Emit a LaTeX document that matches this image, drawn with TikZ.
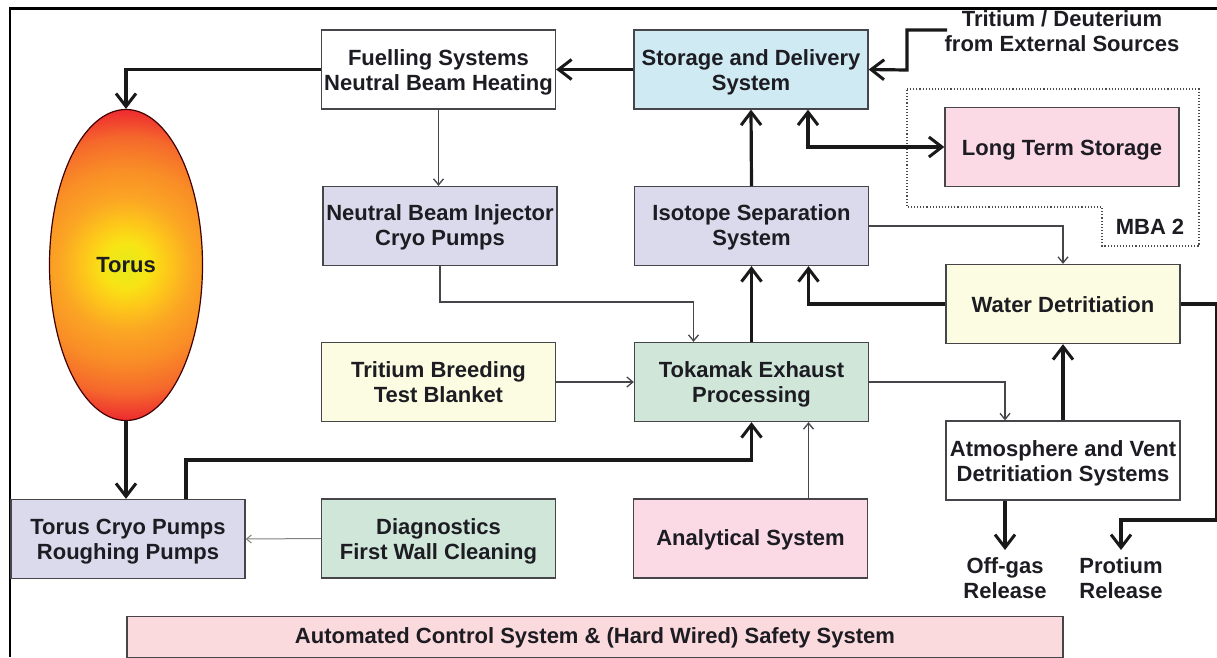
\documentclass[tikz,border=0pt]{standalone}
\usepackage{fontspec}
\setmainfont{Liberation Sans}
\usetikzlibrary{arrows.meta,shapes.geometric}
\definecolor{inkc}{HTML}{1C1C22}
\definecolor{edgec}{HTML}{45454A}
\definecolor{bluef}{HTML}{CFEAF3}
\definecolor{pinkf}{HTML}{FBDAE6}
\definecolor{lavf}{HTML}{DADAEC}
\definecolor{creamf}{HTML}{FCFCE2}
\definecolor{greenf}{HTML}{CFE6D9}
\definecolor{rosef}{HTML}{FBDADD}
\definecolor{glowa}{HTML}{E4EA1C}
\definecolor{glowb}{HTML}{F8E414}
\definecolor{glowc}{HTML}{FDC81A}
\definecolor{glowd}{HTML}{FBA524}
\definecolor{glowe}{HTML}{F98E26}
\definecolor{glowf}{HTML}{F5682C}
\definecolor{glowg}{HTML}{EE2E30}
\pgfdeclareradialshading{torusglow}{\pgfpoint{0bp}{0bp}}{%
 color(0bp)=(glowa);
 color(3.5bp)=(glowb);
 color(6.5bp)=(glowc);
 color(10.5bp)=(glowd);
 color(15bp)=(glowe);
 color(20bp)=(glowf);
 color(24bp)=(glowg);
 color(50bp)=(glowg)}
\newcommand{\dn}[2]{\vbox{\kern#1\hbox{\begin{tabular}{@{}c@{}}#2\end{tabular}}}}
\tikzset{
 x=1pt,y=-1pt,
 boxnode/.style={draw=edgec,line width=1.3pt,minimum width=234pt,minimum height=79pt,inner sep=0pt,
   align=center,text=inkc,font=\fontsize{22}{25}\selectfont\bfseries},
 plainlabel/.style={inner sep=0pt,align=center,text=inkc,font=\fontsize{22}{25}\selectfont\bfseries},
 heavy/.style={line width=3.2pt,black!90,-{Straight Barb[length=13pt,width=20pt,line width=3pt]}},
 heavyboth/.style={line width=3.2pt,black!90,{Straight Barb[length=13pt,width=20pt,line width=3pt]}-{Straight Barb[length=13pt,width=20pt,line width=3pt]}},
 light/.style={line width=1.3pt,edgec,-{Straight Barb[length=6pt,width=10pt,line width=1.3pt]}},
 faint/.style={line width=1pt,black!50,-{Straight Barb[length=5pt,width=8pt,line width=1pt]}}
}
\begin{document}
\begin{tikzpicture}
\useasboundingbox (0,0) rectangle (1217,657);
\fill[white] (0,0) rectangle (1217,657);
% outer frame
\draw[line width=2.6pt,black] (10,657) -- (10,8.5) -- (1217,8.5);
% MBA 2 region
\draw[line width=1.1pt,dotted,black!70] (907,89) -- (1199,89) -- (1199,246) -- (1102,246) -- (1102,207) -- (907,207) -- cycle;
% nodes
\node[boxnode] (fuel) at (438.5,69.5) {\dn{6pt}{Fuelling Systems\\Neutral Beam Heating}};
\node[boxnode,fill=bluef] (store) at (751,69.5) {\dn{6pt}{Storage and Delivery\\System}};
\node[boxnode,fill=pinkf] (longt) at (1062,147) {\dn{6pt}{Long Term Storage}};
\node[boxnode,fill=lavf] (nbi) at (440,226) {\dn{3pt}{Neutral Beam Injector\\Cryo Pumps}};
\node[boxnode,fill=lavf] (iso) at (751.5,226) {\dn{4pt}{Isotope Separation\\System}};
\node[boxnode,fill=creamf] (water) at (1063,304) {\dn{7pt}{Water Detritiation}};
\node[boxnode,fill=creamf] (breed) at (438.5,382) {\dn{6pt}{Tritium Breeding\\Test Blanket}};
\node[boxnode,fill=greenf] (tok) at (751.5,382) {\dn{6pt}{Tokamak Exhaust\\Processing}};
\node[boxnode] (atm) at (1063,460.5) {\dn{6pt}{Atmosphere and Vent\\Detritiation Systems}};
\node[boxnode,fill=lavf] (cryo) at (128,539) {\dn{6pt}{Torus Cryo Pumps\\Roughing Pumps}};
\node[boxnode,fill=greenf] (diag) at (438.5,538.5) {\dn{6pt}{Diagnostics\\First Wall Cleaning}};
\node[boxnode,fill=pinkf] (ana) at (750.5,538.5) {\dn{4pt}{Analytical System}};
\node[boxnode,fill=rosef,minimum width=936pt,minimum height=41pt] (ctrl) at (595,637) {\dn{2pt}{Automated Control System \& (Hard Wired) Safety System}};
\node[draw=black!75!red,line width=1.2pt,ellipse,inner sep=0pt,minimum width=153pt,minimum height=311pt,
  path picture={\shade[shading=torusglow] (path picture bounding box.center) circle (160pt);},
  plainlabel] (torus) at (126,265) {Torus};
% free labels
\node[plainlabel] (ext) at (1062,31) {Tritium / Deuterium\\from External Sources};
\node[plainlabel] (mba) at (1150,227) {MBA 2};
\node[plainlabel] (off) at (1005,578) {Off-gas\\Release};
\node[plainlabel] (prot) at (1121,578) {Protium\\Release};
\coordinate (extend) at (947,30);
\coordinate (offend) at (1005,550);
\coordinate (protend) at (1121,550);
% heavy connectors
\draw[heavy] (fuel.west) -- (fuel.west -| torus.north) -- (torus.north);
\draw[heavy] (store.west) -- (fuel.east);
\draw[heavy] (extend) -- (907,30) -- (907,70) -- (store.east);
\draw[heavy] (tok.north) -- (iso.south);
\draw[heavy] (iso.north) -- (store.south);
\draw[heavyboth] ([xshift=57pt]store.south) |- (longt.west);
\draw[heavy] (water.west) -| ([xshift=57pt]iso.south);
\draw[heavy] (atm.north) -- (water.south);
\draw[heavy] (water.east) -- (1217,304) -- (1217,520) -- (1121,520) -- (protend);
\draw[heavy] ([xshift=-58pt]atm.south) -- (offend);
\draw[heavy] (torus.south) -- (torus.south |- cryo.north);
\draw[heavy] ([xshift=58pt]cryo.north) |- (600,460) -| (tok.south);
% light connectors
\draw[light] (fuel.south) -- (fuel.south |- nbi.north);
\draw[light] (nbi.south) |- (600,302) -| ([xshift=-58pt]tok.north);
\draw[light] (breed.east) -- (tok.west);
\draw[light] (iso.east) -| (water.north);
\draw[light] (tok.east) -| ([xshift=-58pt]atm.north);
\draw[light] ([xshift=58pt]ana.north) -- ([xshift=57pt]tok.south);
\draw[faint] (diag.west) -- (cryo.east);
\end{tikzpicture}
\end{document}
